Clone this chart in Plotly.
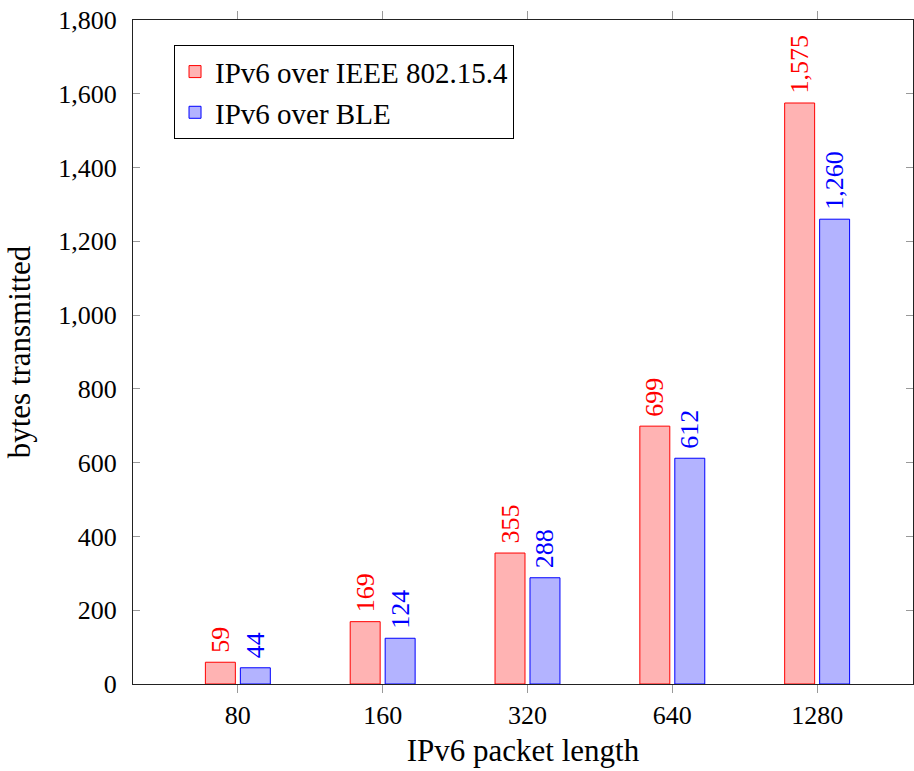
import plotly.graph_objects as go

categories = ["80", "160", "320", "640", "1280"]
ieee_values = [59, 169, 355, 699, 1575]
ble_values = [44, 124, 288, 612, 1260]
series_names = ["IPv6 over IEEE 802.15.4", "IPv6 over BLE"]

FONT = "Liberation Serif"
FS = 26
fig = go.Figure()
fig.add_trace(go.Bar(
    x=categories, y=ieee_values, name=series_names[0],
    marker=dict(color="#ffb3b3", line=dict(color="#ff0000", width=1)),
    texttemplate="\u00a0%{y:,}", textposition="outside", textangle=-90,
    outsidetextfont=dict(color="#ff0000", size=FS, family=FONT),
    constraintext="none", cliponaxis=False,
))
fig.add_trace(go.Bar(
    x=categories, y=ble_values, name=series_names[1],
    marker=dict(color="#b3b3ff", line=dict(color="#0000ff", width=1)),
    texttemplate="\u00a0%{y:,}", textposition="outside", textangle=-90,
    outsidetextfont=dict(color="#0000ff", size=FS, family=FONT),
    constraintext="none", cliponaxis=False,
))

fig.update_layout(
    width=914, height=771, autosize=False,
    margin=dict(l=133, r=1, t=20, b=87, autoexpand=False),
    paper_bgcolor="white", plot_bgcolor="white",
    font=dict(family=FONT, size=FS, color="black"),
    barmode="group", bargap=0.517, bargroupgap=0.143,
    legend=dict(
        x=0.0526, y=0.962, xanchor="left", yanchor="top",
        bordercolor="black", borderwidth=1, bgcolor="white",
        font=dict(size=29, family=FONT),
        itemwidth=30, tracegroupgap=0,
    ),
)
fig.update_xaxes(
    type="category", range=[-0.724, 4.662],
    showline=True, linecolor="#222222", linewidth=1, mirror="ticks",
    ticks="outside", ticklen=8, tickcolor="#999999",
    showgrid=False, zeroline=False,
    title=dict(text="IPv6 packet length", standoff=10),
)
fig.update_yaxes(
    range=[0, 1800], dtick=200, tickformat=",",
    showline=True, linecolor="#222222", linewidth=1, mirror="ticks",
    ticks="inside", ticklen=7, tickcolor="#999999",
    ticklabelstandoff=10,
    showgrid=False, zeroline=False,
    title=dict(text="bytes transmitted", standoff=18),
)

fig.write_html(
    "out.html",
    config={"responsive": False, "displayModeBar": False},
    post_script="document.body.style.margin='0';document.body.style.overflow='hidden';",
)
